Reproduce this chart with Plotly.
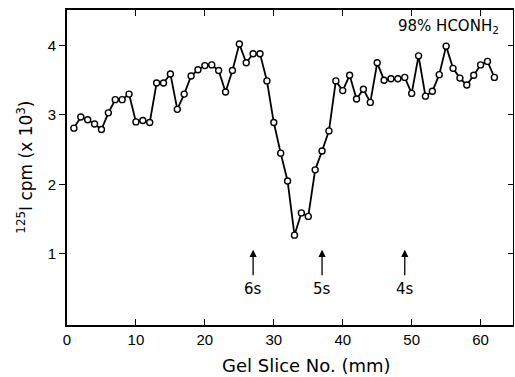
import plotly.graph_objects as go

slice_mm = list(range(1, 63))
cpm_k = [2.81, 2.97, 2.93, 2.87, 2.79, 3.03, 3.22, 3.22, 3.30, 2.90,
         2.92, 2.89, 3.46, 3.46, 3.59, 3.08, 3.30, 3.56, 3.65, 3.71,
         3.72, 3.64, 3.33, 3.64, 4.02, 3.75, 3.88, 3.88, 3.49, 2.89,
         2.45, 2.05, 1.27, 1.59, 1.54, 2.21, 2.48, 2.77, 3.49, 3.35,
         3.57, 3.23, 3.37, 3.18, 3.75, 3.50, 3.52, 3.52, 3.54, 3.31,
         3.85, 3.27, 3.34, 3.58, 3.99, 3.67, 3.53, 3.43, 3.57, 3.72,
         3.77, 3.54]

marker_x = [27, 37, 49]
marker_labels = ["6s", "5s", "4s"]
x_ticks = [0, 10, 20, 30, 40, 50, 60]
y_ticks = [1, 2, 3, 4]

FONT = "DejaVu Sans, Liberation Sans, sans-serif"
TFONT = "Liberation Sans, Arial, sans-serif"
XR = [0, 64.7]
YR = [-0.023, 4.51]

fig = go.Figure()
fig.add_trace(go.Scatter(
    x=slice_mm, y=cpm_k, mode="lines+markers",
    line=dict(color="black", width=1.8),
    marker=dict(symbol="circle", size=6, color="white",
                line=dict(color="black", width=1.4)),
    showlegend=False, hoverinfo="skip"))
fig.add_trace(go.Scatter(x=[None], y=[None], yaxis="y2", showlegend=False,
                         hoverinfo="skip"))

ann = []
for xv, lab in zip(marker_x, marker_labels):
    ann.append(dict(x=xv, y=1.06, ax=xv, ay=0.67, xref="x", yref="y",
                    axref="x", ayref="y", showarrow=True, arrowhead=2,
                    arrowsize=1.1, arrowwidth=1.3, arrowcolor="black", text=""))
    ann.append(dict(x=xv, y=0.50, xref="x", yref="y", text=lab,
                    showarrow=False, font=dict(size=15, color="black", family=FONT)))
ann.append(dict(x=55.4, y=4.27, xref="x", yref="y", text="98% HCONH<sub>2</sub>",
                showarrow=False, font=dict(size=15, color="black", family=FONT)))
ann.append(dict(x=0.538, y=-0.127, xref="paper", yref="paper",
                text="Gel Slice No. (mm)", showarrow=False, yanchor="middle",
                font=dict(size=18, color="black", family=FONT)))
ann.append(dict(x=-0.096, y=0.5, xref="paper", yref="paper",
                text="<sup>125</sup>I cpm (x 10<sup>3</sup>)", showarrow=False,
                textangle=-90, xanchor="center", yanchor="middle",
                font=dict(size=17, color="black", family=FONT)))

fig.update_layout(
    width=515, height=377,
    margin=dict(l=67, r=2, t=10, b=52),
    paper_bgcolor="white", plot_bgcolor="white",
    font=dict(family=TFONT, color="black", size=15),
    xaxis=dict(range=XR, tickvals=x_ticks, ticks="inside", ticklen=6,
               tickwidth=1.3, tickcolor="black", showline=True, linewidth=1.8,
               linecolor="black", mirror="ticks", showgrid=False, zeroline=False,
               tickfont=dict(size=15, family=TFONT)),
    yaxis=dict(range=YR, tickvals=y_ticks, ticks="outside", ticklen=6,
               tickwidth=1.3, tickcolor="black", showline=True, linewidth=1.8,
               linecolor="black", showgrid=False, zeroline=False,
               tickfont=dict(size=15, family=TFONT)),
    yaxis2=dict(range=YR, tickvals=y_ticks, ticks="inside", ticklen=5,
                tickwidth=1.3, tickcolor="black", showline=True, linewidth=1.3,
                linecolor="black", showgrid=False, zeroline=False,
                showticklabels=False, overlaying="y", side="right"),
    annotations=ann,
)
fig.write_html("out.html")
